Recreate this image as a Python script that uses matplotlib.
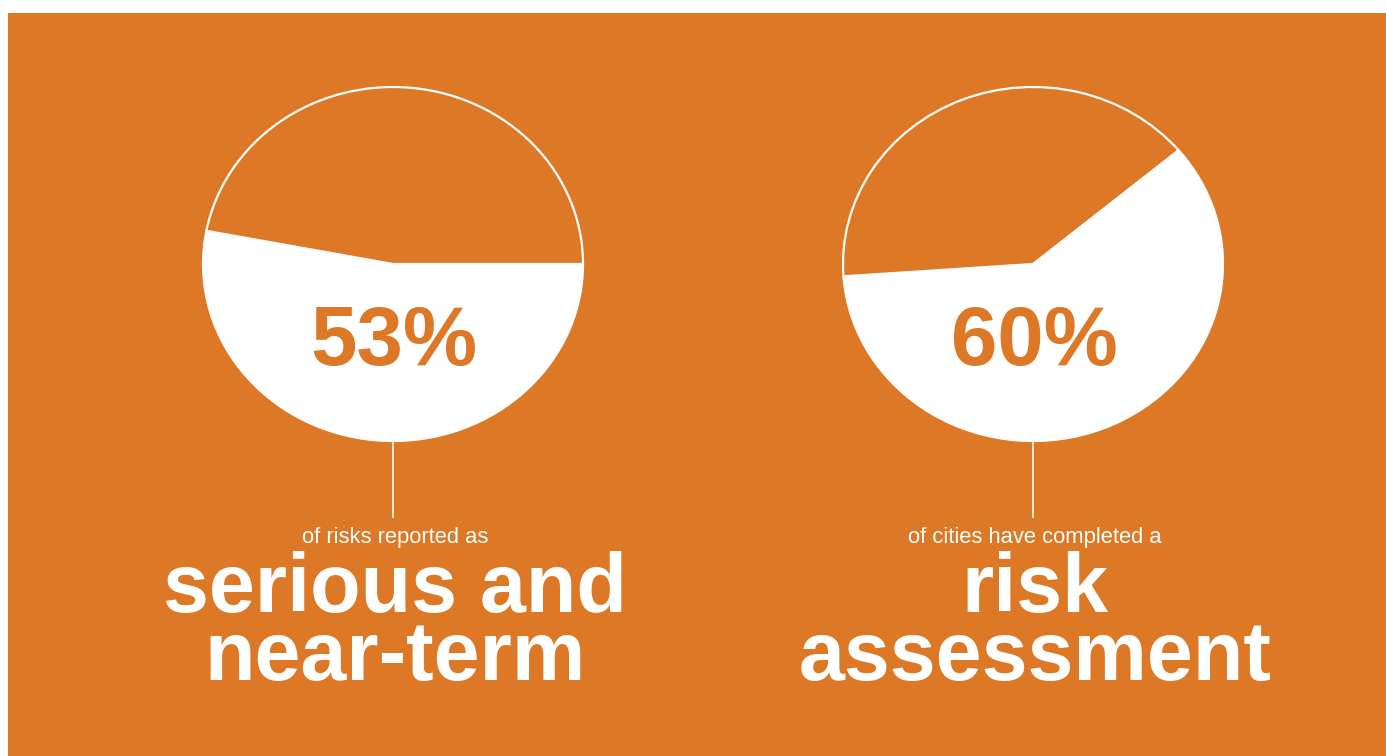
import matplotlib
matplotlib.use("Agg")
import matplotlib.pyplot as plt

# ---- data ----
shares = [53, 60]                       # percent shown in white
pct_labels = ["53%", "60%"]
small_labels = ["of risks reported as", "of cities have completed a"]
big_labels = [["serious and", "near-term"], ["risk", "assessment"]]
start_angles = [0, 40]

ORANGE = "#DC7826"
WHITE = "#FFFFFF"
W, H = 1386, 756

fig = plt.figure(figsize=(W / 100, H / 100), dpi=100)
fig.patch.set_facecolor(WHITE)


def fx(px):
    return px / W


def fy(py):
    return 1 - py / H


# orange panel (white margin top and left) as a background axes
bg = fig.add_axes([fx(8), 0, 1 - fx(8), (H - 13) / H], zorder=-5)
bg.set_facecolor(ORANGE)
bg.set_xticks([])
bg.set_yticks([])
for s in bg.spines.values():
    s.set_visible(False)

centers_x = [393, 1033]
rx, ry = 190, 177
cy = 264

for i in range(2):
    cx = centers_x[i]
    ax = fig.add_axes([fx(cx - rx), fy(cy + ry), 2 * rx / W, 2 * ry / H],
                      zorder=1)
    ax.set_facecolor("none")
    ax.pie([shares[i], 100 - shares[i]], colors=[WHITE, ORANGE],
           startangle=start_angles[i], counterclock=False,
           wedgeprops=dict(edgecolor=WHITE, linewidth=1.6, clip_on=False))
    ax.set_aspect("auto")
    ax.set_xlim(-1, 1)
    ax.set_ylim(-1, 1)
    ax.axis("off")

    # percentage
    fig.text(fx(cx + 1), fy(365), pct_labels[i], color=ORANGE,
             fontsize=60, fontweight="bold", family="Liberation Sans",
             ha="center", va="baseline", zorder=3)

    # connector line
    lax = fig.add_axes([fx(cx - 5), fy(518), 10 / W, (518 - 441) / H],
                       zorder=1)
    lax.plot([0, 0], [0, 1], color=WHITE, linewidth=1.2,
             solid_capstyle="butt")
    lax.set_xlim(-1, 1)
    lax.set_ylim(0, 1)
    lax.axis("off")

    # small caption
    fig.text(fx(cx + 2), fy(543), small_labels[i], color=WHITE,
             fontsize=15.8, family="Liberation Sans", ha="center",
             va="baseline", zorder=3)

    # big caption (two lines, one text object; baseline = last line)
    fig.text(fx(cx + 2), fy(680), "\n".join(big_labels[i]), color=WHITE,
             fontsize=59.5, fontweight="bold", family="Liberation Sans",
             ha="center", va="baseline", multialignment="center",
             linespacing=0.83, zorder=3)

fig.savefig("out.png", dpi=100, facecolor=WHITE)
